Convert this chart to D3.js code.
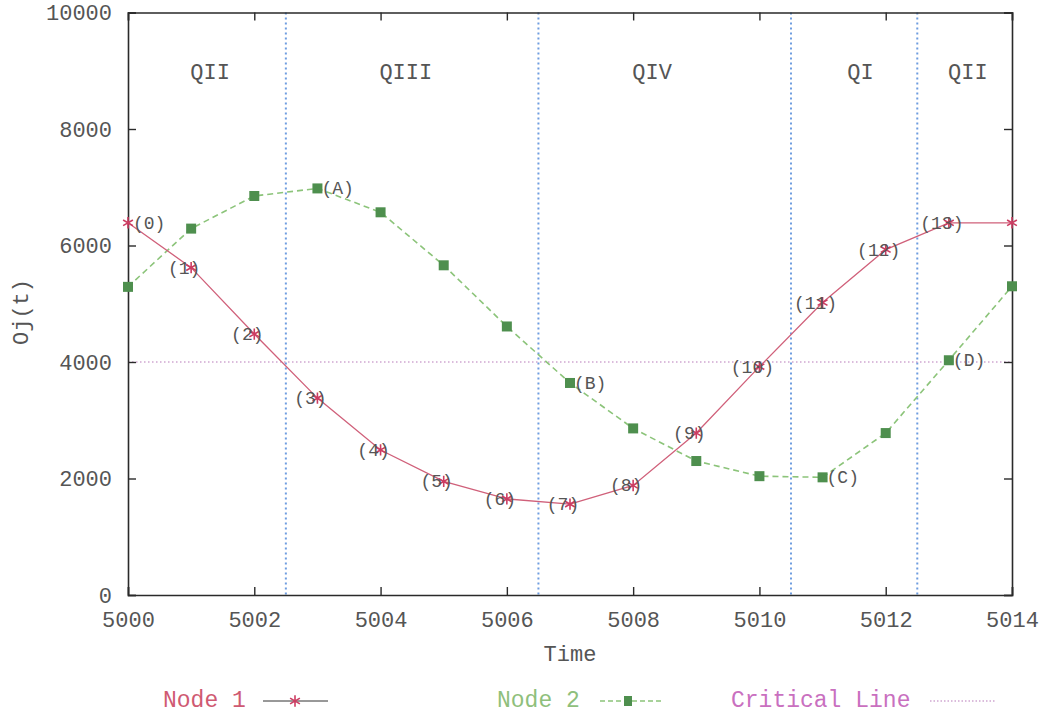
<!DOCTYPE html>
<html>
<head>
<meta charset="utf-8">
<script src="https://cdn.jsdelivr.net/npm/d3@7"></script>
<style>
  html, body { margin: 0; padding: 0; background: #fff; }
  svg { display: block; }
  text { font-family: "Liberation Mono", "DejaVu Sans Mono", monospace; }
</style>
</head>
<body>
<svg id="chart" width="1047" height="713"></svg>
<script>
// Time steps and the two node series
const times = [5000, 5001, 5002, 5003, 5004, 5005, 5006, 5007, 5008, 5009, 5010, 5011, 5012, 5013, 5014];
const node1 = [6390, 5620, 4480, 3380, 2490, 1950, 1650, 1560, 1880, 2780, 3920, 5020, 5930, 6390, 6390];
const node2 = [5290, 6290, 6850, 6980, 6570, 5660, 4610, 3640, 2860, 2300, 2040, 2020, 2780, 4030, 5300];

// Point labels
const node1Labels = ["(0)", "(1)", "(2)", "(3)", "(4)", "(5)", "(6)", "(7)", "(8)", "(9)", "(10)", "(11)", "(12)", "(13)"];
const node2Labels = [{ t: 5003, text: "(A)" }, { t: 5007, text: "(B)" }, { t: 5011, text: "(C)" }, { t: 5013, text: "(D)" }];

// Quadrant boundaries and names
const boundaries = [5002.5, 5006.5, 5010.5, 5012.5];
const quadrants = [
  { t: 5001.3, name: "QII" },
  { t: 5004.4, name: "QIII" },
  { t: 5008.3, name: "QIV" },
  { t: 5011.6, name: "QI" },
  { t: 5013.3, name: "QII" }
];
const criticalValue = 4000;

const xTicks = [5000, 5002, 5004, 5006, 5008, 5010, 5012, 5014];
const yTicks = [0, 2000, 4000, 6000, 8000, 10000];

const svg = d3.select("#chart");
const plot = { left: 128, right: 1012, top: 12.5, bottom: 595 };

const x = d3.scaleLinear().domain([5000, 5014]).range([plot.left, plot.right]);
const y = d3.scaleLinear().domain([0, 10000]).range([plot.bottom, plot.top]);

const textColor = "#555";
const red = "#cc3d62";
const redLine = "#d0607a";
const green = "#4e8f4e";
const greenLine = "#8cc47a";
const blue = "#6f9de0";
const critical = "#b77ab9";

// Quadrant separators
svg.append("g").selectAll("line").data(boundaries).join("line")
  .attr("x1", d => x(d)).attr("x2", d => x(d))
  .attr("y1", plot.top).attr("y2", plot.bottom)
  .attr("stroke", blue).attr("stroke-width", 2)
  .attr("stroke-dasharray", "2,3");

// Critical line
svg.append("line")
  .attr("x1", x(5000)).attr("x2", x(5014))
  .attr("y1", y(criticalValue)).attr("y2", y(criticalValue))
  .attr("stroke", critical).attr("stroke-width", 1.2)
  .attr("stroke-dasharray", "1.5,2.5");

// Axes box with inward ticks
const axisG = svg.append("g").attr("class", "axes");
const tickLen = 8;
axisG.append("g").attr("transform", `translate(0,${plot.bottom})`)
  .call(d3.axisBottom(x).tickValues(xTicks).tickSize(-tickLen).tickPadding(16).tickFormat(d3.format("d")));
axisG.append("g").attr("transform", `translate(0,${plot.top})`)
  .call(d3.axisTop(x).tickValues(xTicks).tickSize(-tickLen).tickFormat(""));
axisG.append("g").attr("transform", `translate(${plot.left},0)`)
  .call(d3.axisLeft(y).tickValues(yTicks).tickSize(-tickLen).tickPadding(16).tickFormat(d3.format("d")));
axisG.append("g").attr("transform", `translate(${plot.right},0)`)
  .call(d3.axisRight(y).tickValues(yTicks).tickSize(-tickLen).tickFormat(""));
axisG.selectAll(".domain").attr("stroke", "#2a2a2a").attr("stroke-width", 1.6);
axisG.selectAll(".tick line").attr("stroke", "#2a2a2a").attr("stroke-width", 1.4);
axisG.selectAll(".tick text")
  .attr("fill", textColor).attr("font-size", 22)
  .attr("font-family", "Liberation Mono, DejaVu Sans Mono, monospace");

// Quadrant names
svg.append("g").selectAll("text").data(quadrants).join("text")
  .attr("x", d => x(d.t)).attr("y", 73)
  .attr("text-anchor", "middle").attr("dominant-baseline", "central")
  .attr("font-size", 22).attr("fill", textColor)
  .text(d => d.name);

// Series lines (straight segments between samples)
const line = d3.line().x((d, i) => x(times[i])).y(d => y(d));

svg.append("path").datum(node2)
  .attr("d", line).attr("fill", "none")
  .attr("stroke", greenLine).attr("stroke-width", 1.6)
  .attr("stroke-dasharray", "6,4");

svg.append("path").datum(node1)
  .attr("d", line).attr("fill", "none")
  .attr("stroke", redLine).attr("stroke-width", 1.3);

// Node 2 markers
svg.append("g").selectAll("rect").data(node2).join("rect")
  .attr("x", (d, i) => x(times[i]) - 5).attr("y", d => y(d) - 5)
  .attr("width", 10).attr("height", 10)
  .attr("fill", green);

// Node 1 markers
const star = d3.symbol().type(d3.symbolAsterisk).size(90);
svg.append("g").selectAll("path").data(node1).join("path")
  .attr("transform", (d, i) => `translate(${x(times[i])},${y(d)})`)
  .attr("d", star)
  .attr("fill", "none").attr("stroke", red).attr("stroke-width", 1.6);

// Node 1 point labels
svg.append("g").selectAll("text").data(node1Labels).join("text")
  .attr("x", (d, i) => i === 0 ? x(times[i]) + 5 : x(times[i]) - 7)
  .attr("y", (d, i) => y(node1[i]) + 1)
  .attr("text-anchor", (d, i) => i === 0 ? "start" : "middle")
  .attr("dominant-baseline", "central")
  .attr("font-size", 18).attr("fill", textColor)
  .text(d => d);

// Node 2 point labels
svg.append("g").selectAll("text").data(node2Labels).join("text")
  .attr("x", d => x(d.t) + 4)
  .attr("y", d => y(node2[times.indexOf(d.t)]) + 1)
  .attr("text-anchor", "start").attr("dominant-baseline", "central")
  .attr("font-size", 18).attr("fill", textColor)
  .text(d => d.text);

// Axis titles
svg.append("text")
  .attr("x", (plot.left + plot.right) / 2).attr("y", 655)
  .attr("text-anchor", "middle").attr("dominant-baseline", "central")
  .attr("font-size", 22).attr("fill", textColor).text("Time");
svg.append("text")
  .attr("transform", "translate(22,312) rotate(-90)")
  .attr("text-anchor", "middle").attr("dominant-baseline", "central")
  .attr("font-size", 22).attr("fill", textColor).text("Oj(t)");

// Legend
const legY = 701;
const legend = svg.append("g");
legend.append("text").attr("x", 163).attr("y", legY).attr("dominant-baseline", "central")
  .attr("font-size", 23).attr("fill", "#cf5a72").text("Node 1");
legend.append("line").attr("x1", 263).attr("x2", 328).attr("y1", legY).attr("y2", legY)
  .attr("stroke", "#333").attr("stroke-width", 1);
legend.append("path").attr("transform", `translate(295,${legY})`).attr("d", star)
  .attr("fill", "none").attr("stroke", red).attr("stroke-width", 1.6);

legend.append("text").attr("x", 497).attr("y", legY).attr("dominant-baseline", "central")
  .attr("font-size", 23).attr("fill", "#8fbf7c").text("Node 2");
legend.append("line").attr("x1", 600).attr("x2", 662).attr("y1", legY).attr("y2", legY)
  .attr("stroke", greenLine).attr("stroke-width", 1.6).attr("stroke-dasharray", "5,3");
legend.append("rect").attr("x", 624).attr("y", legY - 5).attr("width", 8).attr("height", 10)
  .attr("fill", green);

legend.append("text").attr("x", 731).attr("y", legY).attr("dominant-baseline", "central")
  .attr("font-size", 23).attr("fill", "#c970bf").text("Critical Line");
legend.append("line").attr("x1", 930).attr("x2", 995).attr("y1", legY).attr("y2", legY)
  .attr("stroke", critical).attr("stroke-width", 1.2).attr("stroke-dasharray", "1.5,2");
</script>
</body>
</html>
